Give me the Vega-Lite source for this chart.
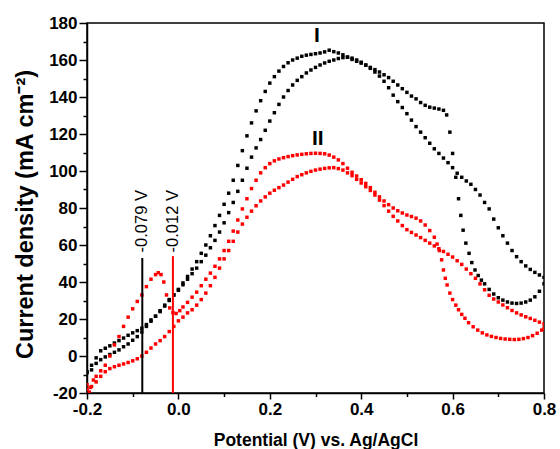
{
"$schema": "https://vega.github.io/schema/vega-lite/v6.json",
"width": 457, "height": 370,
"autosize": {"type": "none"},
"padding": {"left": 87, "top": 23, "right": 16, "bottom": 56},
"background": "white",
"config": {"view": {"stroke": "black", "strokeWidth": 1.5}, "font": "Liberation Sans", "axis": {"labelOverlap": false}},
"datasets": {
"pts": [
{"s":"b","v":-0.2,"i":-8.5},{"s":"b","v":-0.19,"i":-5},{"s":"b","v":-0.18,"i":-1},{"s":"b","v":-0.17,"i":2.8},{"s":"b","v":-0.16,"i":4.2},{"s":"b","v":-0.15,"i":5.5},{"s":"b","v":-0.14,"i":7},{"s":"b","v":-0.13,"i":8.3},{"s":"b","v":-0.12,"i":9.7},{"s":"b","v":-0.11,"i":11.2},{"s":"b","v":-0.1,"i":12.5},{"s":"b","v":-0.09,"i":13.7},{"s":"b","v":-0.08,"i":15},{"s":"b","v":-0.07,"i":17},{"s":"b","v":-0.06,"i":19.5},{"s":"b","v":-0.05,"i":21.5},{"s":"b","v":-0.04,"i":24},{"s":"b","v":-0.03,"i":27},{"s":"b","v":-0.02,"i":30},{"s":"b","v":-0.01,"i":33},{"s":"b","v":0,"i":36},{"s":"b","v":0.01,"i":39.5},{"s":"b","v":0.02,"i":43},{"s":"b","v":0.03,"i":47},{"s":"b","v":0.04,"i":51},{"s":"b","v":0.05,"i":55.5},{"s":"b","v":0.06,"i":60},{"s":"b","v":0.07,"i":65},{"s":"b","v":0.08,"i":70.5},{"s":"b","v":0.09,"i":76},{"s":"b","v":0.1,"i":82},{"s":"b","v":0.11,"i":88},{"s":"b","v":0.12,"i":95},{"s":"b","v":0.13,"i":103},{"s":"b","v":0.14,"i":111},{"s":"b","v":0.15,"i":119},{"s":"b","v":0.16,"i":126},{"s":"b","v":0.17,"i":132.5},{"s":"b","v":0.18,"i":138},{"s":"b","v":0.19,"i":143},{"s":"b","v":0.2,"i":147.5},{"s":"b","v":0.21,"i":151},{"s":"b","v":0.22,"i":154},{"s":"b","v":0.23,"i":156.5},{"s":"b","v":0.24,"i":158.5},{"s":"b","v":0.25,"i":160},{"s":"b","v":0.26,"i":161},{"s":"b","v":0.27,"i":162},{"s":"b","v":0.28,"i":162.6},{"s":"b","v":0.29,"i":163},{"s":"b","v":0.3,"i":163.4},{"s":"b","v":0.31,"i":163.8},{"s":"b","v":0.32,"i":164.4},{"s":"b","v":0.33,"i":165.3},{"s":"b","v":0.34,"i":164.5},{"s":"b","v":0.35,"i":163.8},{"s":"b","v":0.36,"i":162.8},{"s":"b","v":0.37,"i":161.6},{"s":"b","v":0.38,"i":160.3},{"s":"b","v":0.39,"i":159.3},{"s":"b","v":0.4,"i":158.3},{"s":"b","v":0.41,"i":157.2},{"s":"b","v":0.42,"i":156},{"s":"b","v":0.43,"i":154.8},{"s":"b","v":0.44,"i":153.5},{"s":"b","v":0.45,"i":152},{"s":"b","v":0.46,"i":150.5},{"s":"b","v":0.47,"i":148.5},{"s":"b","v":0.48,"i":146.5},{"s":"b","v":0.49,"i":144.5},{"s":"b","v":0.5,"i":142.5},{"s":"b","v":0.51,"i":140.5},{"s":"b","v":0.52,"i":139},{"s":"b","v":0.53,"i":137},{"s":"b","v":0.54,"i":135.5},{"s":"b","v":0.55,"i":134.5},{"s":"b","v":0.56,"i":134},{"s":"b","v":0.57,"i":133.5},{"s":"b","v":0.58,"i":132.8},{"s":"b","v":0.587,"i":130.3},{"s":"b","v":0.594,"i":121},{"s":"b","v":0.6,"i":109.5},{"s":"b","v":0.607,"i":96.6},{"s":"b","v":0.613,"i":85},{"s":"b","v":0.618,"i":76},{"s":"b","v":0.623,"i":68},{"s":"b","v":0.629,"i":61},{"s":"b","v":0.636,"i":55.5},{"s":"b","v":0.642,"i":50.5},{"s":"b","v":0.649,"i":46.5},{"s":"b","v":0.656,"i":43.5},{"s":"b","v":0.663,"i":41},{"s":"b","v":0.67,"i":39},{"s":"b","v":0.68,"i":36},{"s":"b","v":0.69,"i":33.5},{"s":"b","v":0.7,"i":31.5},{"s":"b","v":0.71,"i":30.2},{"s":"b","v":0.72,"i":29.2},{"s":"b","v":0.73,"i":28.6},{"s":"b","v":0.74,"i":28.4},{"s":"b","v":0.75,"i":28.6},{"s":"b","v":0.76,"i":29.2},{"s":"b","v":0.77,"i":30.2},{"s":"b","v":0.78,"i":32},{"s":"b","v":0.79,"i":35},{"s":"b","v":0.8,"i":39},
{"s":"b","v":-0.2,"i":-9},{"s":"b","v":-0.19,"i":-7.5},{"s":"b","v":-0.18,"i":-4},{"s":"b","v":-0.17,"i":-2},{"s":"b","v":-0.16,"i":-0.5},{"s":"b","v":-0.15,"i":0.8},{"s":"b","v":-0.14,"i":2},{"s":"b","v":-0.13,"i":3.3},{"s":"b","v":-0.12,"i":5},{"s":"b","v":-0.11,"i":6.5},{"s":"b","v":-0.1,"i":8.5},{"s":"b","v":-0.09,"i":10.5},{"s":"b","v":-0.08,"i":13},{"s":"b","v":-0.07,"i":16},{"s":"b","v":-0.06,"i":18.8},{"s":"b","v":-0.05,"i":21.5},{"s":"b","v":-0.04,"i":24.5},{"s":"b","v":-0.03,"i":27.5},{"s":"b","v":-0.02,"i":30.5},{"s":"b","v":-0.01,"i":33},{"s":"b","v":0,"i":35.5},{"s":"b","v":0.01,"i":38.5},{"s":"b","v":0.02,"i":41.5},{"s":"b","v":0.03,"i":44.5},{"s":"b","v":0.04,"i":47.5},{"s":"b","v":0.05,"i":51},{"s":"b","v":0.06,"i":54.5},{"s":"b","v":0.07,"i":58.5},{"s":"b","v":0.08,"i":62.5},{"s":"b","v":0.09,"i":67},{"s":"b","v":0.1,"i":72},{"s":"b","v":0.11,"i":77.5},{"s":"b","v":0.12,"i":83},{"s":"b","v":0.13,"i":89},{"s":"b","v":0.14,"i":95},{"s":"b","v":0.15,"i":101.5},{"s":"b","v":0.16,"i":107.5},{"s":"b","v":0.17,"i":112.5},{"s":"b","v":0.18,"i":117},{"s":"b","v":0.19,"i":122},{"s":"b","v":0.2,"i":127},{"s":"b","v":0.21,"i":131.5},{"s":"b","v":0.22,"i":136},{"s":"b","v":0.23,"i":140},{"s":"b","v":0.24,"i":143.5},{"s":"b","v":0.25,"i":146.5},{"s":"b","v":0.26,"i":149},{"s":"b","v":0.27,"i":151},{"s":"b","v":0.28,"i":153},{"s":"b","v":0.29,"i":154.6},{"s":"b","v":0.3,"i":156},{"s":"b","v":0.31,"i":157.3},{"s":"b","v":0.32,"i":158.4},{"s":"b","v":0.33,"i":159.3},{"s":"b","v":0.34,"i":160},{"s":"b","v":0.35,"i":160.8},{"s":"b","v":0.36,"i":161.3},{"s":"b","v":0.37,"i":161.5},{"s":"b","v":0.38,"i":161},{"s":"b","v":0.39,"i":160},{"s":"b","v":0.4,"i":158.8},{"s":"b","v":0.41,"i":157.3},{"s":"b","v":0.42,"i":155.5},{"s":"b","v":0.43,"i":153.5},{"s":"b","v":0.44,"i":151.3},{"s":"b","v":0.45,"i":148.5},{"s":"b","v":0.46,"i":145},{"s":"b","v":0.47,"i":141},{"s":"b","v":0.48,"i":137.5},{"s":"b","v":0.49,"i":134.3},{"s":"b","v":0.5,"i":131},{"s":"b","v":0.51,"i":127.5},{"s":"b","v":0.52,"i":124},{"s":"b","v":0.53,"i":121},{"s":"b","v":0.54,"i":118},{"s":"b","v":0.55,"i":115},{"s":"b","v":0.56,"i":112},{"s":"b","v":0.57,"i":109.5},{"s":"b","v":0.58,"i":107},{"s":"b","v":0.59,"i":104.5},{"s":"b","v":0.6,"i":101.8},{"s":"b","v":0.61,"i":98.8},{"s":"b","v":0.62,"i":96.6},{"s":"b","v":0.63,"i":94.6},{"s":"b","v":0.64,"i":92.8},{"s":"b","v":0.65,"i":90},{"s":"b","v":0.66,"i":87},{"s":"b","v":0.67,"i":83},{"s":"b","v":0.68,"i":79.5},{"s":"b","v":0.69,"i":74},{"s":"b","v":0.7,"i":69.3},{"s":"b","v":0.71,"i":65},{"s":"b","v":0.72,"i":61},{"s":"b","v":0.73,"i":57},{"s":"b","v":0.74,"i":53.7},{"s":"b","v":0.75,"i":51},{"s":"b","v":0.76,"i":48.7},{"s":"b","v":0.77,"i":46.8},{"s":"b","v":0.78,"i":45.2},{"s":"b","v":0.79,"i":43.8},{"s":"b","v":0.8,"i":42.5},
{"s":"r","v":-0.2,"i":-15.5},{"s":"r","v":-0.193,"i":-17},{"s":"r","v":-0.186,"i":-13},{"s":"r","v":-0.18,"i":-11},{"s":"r","v":-0.17,"i":-8},{"s":"r","v":-0.16,"i":-5},{"s":"r","v":-0.15,"i":0},{"s":"r","v":-0.14,"i":6},{"s":"r","v":-0.13,"i":10.5},{"s":"r","v":-0.12,"i":16},{"s":"r","v":-0.11,"i":21},{"s":"r","v":-0.1,"i":25.5},{"s":"r","v":-0.09,"i":29.5},{"s":"r","v":-0.08,"i":33},{"s":"r","v":-0.07,"i":37.5},{"s":"r","v":-0.06,"i":41.5},{"s":"r","v":-0.05,"i":44},{"s":"r","v":-0.044,"i":45},{"s":"r","v":-0.038,"i":44},{"s":"r","v":-0.032,"i":40},{"s":"r","v":-0.026,"i":33},{"s":"r","v":-0.019,"i":26},{"s":"r","v":-0.012,"i":23.5},{"s":"r","v":-0.005,"i":23},{"s":"r","v":0.003,"i":24.5},{"s":"r","v":0.01,"i":26.5},{"s":"r","v":0.02,"i":29},{"s":"r","v":0.03,"i":31.8},{"s":"r","v":0.04,"i":34.5},{"s":"r","v":0.05,"i":38},{"s":"r","v":0.06,"i":41.5},{"s":"r","v":0.07,"i":44.8},{"s":"r","v":0.08,"i":48.5},{"s":"r","v":0.09,"i":52.5},{"s":"r","v":0.1,"i":57},{"s":"r","v":0.11,"i":62},{"s":"r","v":0.12,"i":67.5},{"s":"r","v":0.13,"i":73.5},{"s":"r","v":0.14,"i":79.5},{"s":"r","v":0.15,"i":85},{"s":"r","v":0.16,"i":90.5},{"s":"r","v":0.17,"i":95},{"s":"r","v":0.18,"i":99},{"s":"r","v":0.19,"i":101.8},{"s":"r","v":0.2,"i":104},{"s":"r","v":0.21,"i":105.5},{"s":"r","v":0.22,"i":106.5},{"s":"r","v":0.23,"i":107.2},{"s":"r","v":0.24,"i":107.8},{"s":"r","v":0.25,"i":108.3},{"s":"r","v":0.26,"i":108.7},{"s":"r","v":0.27,"i":109},{"s":"r","v":0.28,"i":109.3},{"s":"r","v":0.29,"i":109.5},{"s":"r","v":0.3,"i":109.6},{"s":"r","v":0.31,"i":109.5},{"s":"r","v":0.32,"i":109.3},{"s":"r","v":0.33,"i":108.6},{"s":"r","v":0.34,"i":107.5},{"s":"r","v":0.35,"i":106},{"s":"r","v":0.36,"i":104},{"s":"r","v":0.37,"i":101.5},{"s":"r","v":0.38,"i":99.3},{"s":"r","v":0.39,"i":97.3},{"s":"r","v":0.4,"i":95.3},{"s":"r","v":0.41,"i":93.3},{"s":"r","v":0.42,"i":91},{"s":"r","v":0.43,"i":88.5},{"s":"r","v":0.44,"i":86},{"s":"r","v":0.45,"i":83.8},{"s":"r","v":0.46,"i":81.8},{"s":"r","v":0.47,"i":80},{"s":"r","v":0.48,"i":78.5},{"s":"r","v":0.49,"i":77.3},{"s":"r","v":0.5,"i":76.2},{"s":"r","v":0.51,"i":75.4},{"s":"r","v":0.52,"i":74.5},{"s":"r","v":0.53,"i":73},{"s":"r","v":0.54,"i":70.8},{"s":"r","v":0.55,"i":67.8},{"s":"r","v":0.56,"i":64.2},{"s":"r","v":0.566,"i":60.5},{"s":"r","v":0.571,"i":57},{"s":"r","v":0.576,"i":52},{"s":"r","v":0.58,"i":46.5},{"s":"r","v":0.584,"i":42},{"s":"r","v":0.588,"i":38.4},{"s":"r","v":0.594,"i":34},{"s":"r","v":0.6,"i":30.5},{"s":"r","v":0.607,"i":27.5},{"s":"r","v":0.613,"i":25},{"s":"r","v":0.62,"i":22.5},{"s":"r","v":0.627,"i":20.4},{"s":"r","v":0.635,"i":18},{"s":"r","v":0.645,"i":15.8},{"s":"r","v":0.655,"i":14},{"s":"r","v":0.665,"i":12.5},{"s":"r","v":0.675,"i":11.4},{"s":"r","v":0.685,"i":10.6},{"s":"r","v":0.695,"i":10},{"s":"r","v":0.705,"i":9.5},{"s":"r","v":0.715,"i":9.2},{"s":"r","v":0.725,"i":9},{"s":"r","v":0.735,"i":8.9},{"s":"r","v":0.745,"i":9},{"s":"r","v":0.755,"i":9.4},{"s":"r","v":0.765,"i":10},{"s":"r","v":0.775,"i":11},{"s":"r","v":0.785,"i":12.3},{"s":"r","v":0.795,"i":14},{"s":"r","v":0.8,"i":15},
{"s":"r","v":-0.2,"i":-18},{"s":"r","v":-0.195,"i":-19.5},{"s":"r","v":-0.19,"i":-16.5},{"s":"r","v":-0.18,"i":-14},{"s":"r","v":-0.17,"i":-11},{"s":"r","v":-0.16,"i":-8.5},{"s":"r","v":-0.15,"i":-6.8},{"s":"r","v":-0.14,"i":-5.8},{"s":"r","v":-0.13,"i":-5},{"s":"r","v":-0.12,"i":-4.3},{"s":"r","v":-0.11,"i":-3.5},{"s":"r","v":-0.1,"i":-2.6},{"s":"r","v":-0.09,"i":-1.5},{"s":"r","v":-0.08,"i":0},{"s":"r","v":-0.07,"i":2},{"s":"r","v":-0.06,"i":4.3},{"s":"r","v":-0.05,"i":6.5},{"s":"r","v":-0.04,"i":8.3},{"s":"r","v":-0.03,"i":10.5},{"s":"r","v":-0.02,"i":13.2},{"s":"r","v":-0.01,"i":16},{"s":"r","v":0,"i":19},{"s":"r","v":0.01,"i":21},{"s":"r","v":0.02,"i":23.3},{"s":"r","v":0.03,"i":25},{"s":"r","v":0.04,"i":27.5},{"s":"r","v":0.05,"i":30.5},{"s":"r","v":0.06,"i":34},{"s":"r","v":0.07,"i":38},{"s":"r","v":0.08,"i":42.5},{"s":"r","v":0.09,"i":47.5},{"s":"r","v":0.1,"i":52.5},{"s":"r","v":0.11,"i":57},{"s":"r","v":0.12,"i":62},{"s":"r","v":0.13,"i":67},{"s":"r","v":0.14,"i":71.3},{"s":"r","v":0.15,"i":75},{"s":"r","v":0.16,"i":78.3},{"s":"r","v":0.17,"i":81.2},{"s":"r","v":0.18,"i":83.8},{"s":"r","v":0.19,"i":86},{"s":"r","v":0.2,"i":88},{"s":"r","v":0.21,"i":89.6},{"s":"r","v":0.22,"i":91},{"s":"r","v":0.23,"i":92.4},{"s":"r","v":0.24,"i":94},{"s":"r","v":0.25,"i":95.5},{"s":"r","v":0.26,"i":97},{"s":"r","v":0.27,"i":98},{"s":"r","v":0.28,"i":99},{"s":"r","v":0.29,"i":99.8},{"s":"r","v":0.3,"i":100.5},{"s":"r","v":0.31,"i":101},{"s":"r","v":0.32,"i":101.4},{"s":"r","v":0.33,"i":101.7},{"s":"r","v":0.34,"i":101.8},{"s":"r","v":0.35,"i":101.3},{"s":"r","v":0.36,"i":100.5},{"s":"r","v":0.37,"i":99},{"s":"r","v":0.38,"i":97.5},{"s":"r","v":0.39,"i":95.5},{"s":"r","v":0.4,"i":93.5},{"s":"r","v":0.41,"i":91.5},{"s":"r","v":0.42,"i":89.5},{"s":"r","v":0.43,"i":87},{"s":"r","v":0.44,"i":84.3},{"s":"r","v":0.45,"i":81.3},{"s":"r","v":0.46,"i":78.3},{"s":"r","v":0.47,"i":75.5},{"s":"r","v":0.48,"i":73},{"s":"r","v":0.49,"i":70.5},{"s":"r","v":0.5,"i":68.3},{"s":"r","v":0.51,"i":66.8},{"s":"r","v":0.52,"i":65.4},{"s":"r","v":0.53,"i":64},{"s":"r","v":0.54,"i":62.5},{"s":"r","v":0.55,"i":61},{"s":"r","v":0.56,"i":59.5},{"s":"r","v":0.57,"i":58},{"s":"r","v":0.58,"i":56.5},{"s":"r","v":0.59,"i":55},{"s":"r","v":0.6,"i":53.5},{"s":"r","v":0.61,"i":51.5},{"s":"r","v":0.62,"i":49.5},{"s":"r","v":0.63,"i":47},{"s":"r","v":0.64,"i":44.5},{"s":"r","v":0.65,"i":42},{"s":"r","v":0.66,"i":39},{"s":"r","v":0.67,"i":35.8},{"s":"r","v":0.68,"i":32.8},{"s":"r","v":0.69,"i":30.8},{"s":"r","v":0.7,"i":29.2},{"s":"r","v":0.71,"i":27.6},{"s":"r","v":0.72,"i":26.1},{"s":"r","v":0.73,"i":24.6},{"s":"r","v":0.74,"i":23.3},{"s":"r","v":0.75,"i":22.2},{"s":"r","v":0.76,"i":21.2},{"s":"r","v":0.77,"i":20.3},{"s":"r","v":0.78,"i":19.3},{"s":"r","v":0.79,"i":18.3},{"s":"r","v":0.8,"i":17.3}
],
"vl": [
{"s":"b","v":-0.079,"i":-20,"i2":53},
{"s":"r","v":-0.012,"i":-20,"i2":54}
],
"vt": [
{"v":-0.079,"i":56,"t":"-0.079 V"},
{"v":-0.012,"i":56,"t":"-0.012 V"}
],
"lab": [
{"v":0.303,"i":173,"t":"I"},
{"v":0.305,"i":117.5,"t":"II"}
]
},
"encoding": {
"x": {"field": "v", "type": "quantitative",
"scale": {"domain": [-0.2, 0.8], "nice": false, "zero": false},
"axis": {
"values": [-0.2,-0.1,0,0.1,0.2,0.3,0.4,0.5,0.6,0.7,0.8],
"labelExpr": "abs(round(datum.value*10))%2==0 ? replace(format(datum.value,'.1f'),'\u2212','-') : ''",
"tickSize": {"condition": {"test": "abs(round(datum.value*10))%2==0", "value": 6}, "value": 3.5},
"grid": false, "domainColor": "black", "domainWidth": 1.5, "tickColor": "black", "tickWidth": 1.5,
"labelFont": "Liberation Sans", "labelFontWeight": "bold", "labelFontSize": 17, "labelColor": "black",
"labelPadding": 2, "labelFlush": false, "labelOverlap": false,
"title": "Potential (V) vs. Ag/AgCl", "titleFont": "Liberation Sans", "titleFontSize": 17.5, "titleFontWeight": "bold",
"titleColor": "black", "titleY": 52, "titleBaseline": "alphabetic"
}},
"y": {"field": "i", "type": "quantitative",
"scale": {"domain": [-20, 180], "nice": false, "zero": false},
"axis": {
"values": [-20,-10,0,10,20,30,40,50,60,70,80,90,100,110,120,130,140,150,160,170,180],
"labelExpr": "datum.value % 20 == 0 ? replace(format(datum.value,'d'),'\u2212','-') : ''",
"tickSize": {"condition": {"test": "datum.value % 20 == 0", "value": 8}, "value": 4},
"grid": false, "domainColor": "black", "domainWidth": 1.5, "tickColor": "black", "tickWidth": 1.5,
"labelFont": "Liberation Sans", "labelFontWeight": "bold", "labelFontSize": 17, "labelColor": "black",
"labelPadding": 2, "labelFlush": false, "labelOverlap": false,
"title": "Current density (mA cm\u207b\u00b2)", "titleFont": "Liberation Sans", "titleFontSize": 23.5, "titleFontWeight": "bold",
"titleColor": "black", "titleAngle": 270, "titleX": -62, "titleY": 191, "titleAlign": "center", "titleBaseline": "middle"
}}
},
"layer": [
{
"data": {"name": "pts"},
"mark": {"type": "point", "shape": "square", "filled": true, "size": 12, "opacity": 1, "clip": true},
"encoding": {
"color": {"field": "s", "type": "nominal", "scale": {"domain": ["b","r"], "range": ["#000000","#ff0000"]}, "legend": null}
}
},
{
"data": {"name": "vl"},
"mark": {"type": "rule", "strokeWidth": 2},
"encoding": {
"y2": {"field": "i2"},
"color": {"field": "s", "type": "nominal", "legend": null}
}
},
{
"data": {"name": "vt"},
"mark": {"type": "text", "angle": 270, "align": "left", "baseline": "middle", "fontSize": 16.5, "font": "Liberation Sans", "color": "black"},
"encoding": {
"text": {"field": "t"}
}
},
{
"data": {"name": "lab"},
"mark": {"type": "text", "align": "center", "baseline": "middle", "fontSize": 21, "fontWeight": "bold", "font": "Liberation Sans", "color": "black"},
"encoding": {
"text": {"field": "t"}
}
}
]
}
